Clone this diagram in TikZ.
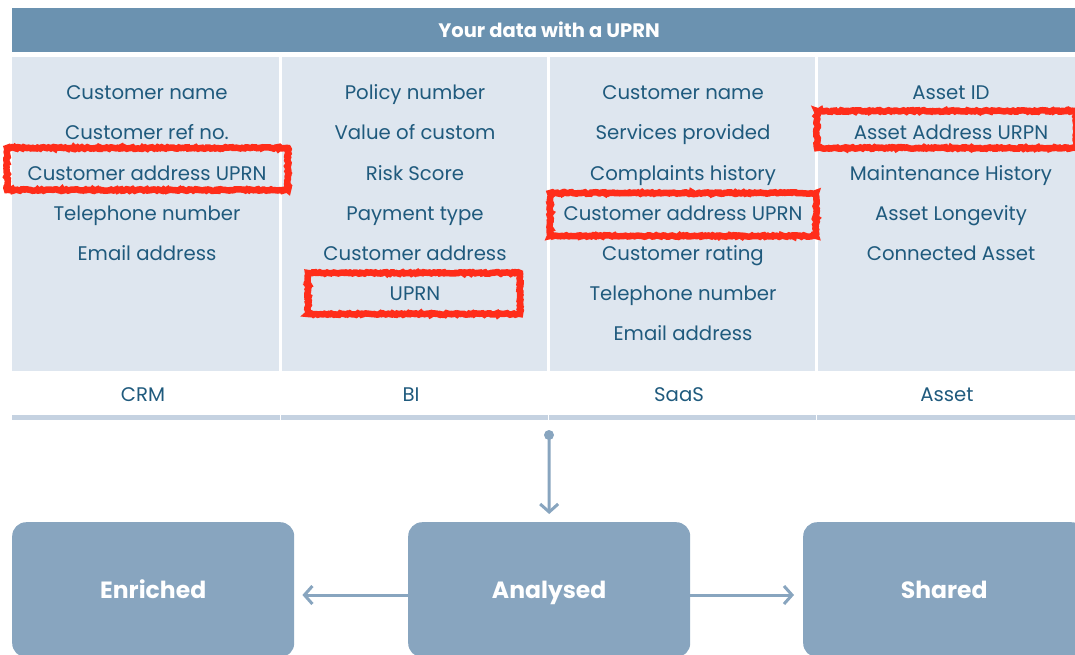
\documentclass[tikz,border=0pt]{standalone}
\usepackage{fontspec}
\setmainfont{Poppins}
\usetikzlibrary{arrows.meta,decorations.pathmorphing}
\definecolor{hdr}{HTML}{6B92B0}
\definecolor{colbg}{HTML}{DEE6EF}
\definecolor{barc}{HTML}{C5D2E1}
\definecolor{ink}{HTML}{1F5A7D}
\definecolor{boxc}{HTML}{88A5BF}
\definecolor{redm}{HTML}{FF2D1A}
\tikzset{
  x=1pt,y=-1pt,
  header/.style={fill=hdr,minimum width=1063pt,minimum height=44pt,inner sep=0pt,anchor=north west},
  headtext/.style={text=white,font=\fontsize{19.5}{22}\bfseries\selectfont,inner sep=0pt,text height=15pt,text depth=1pt},
  column/.style={fill=colbg,minimum height=314pt,inner sep=0pt,anchor=north west},
  bar/.style={fill=barc,minimum height=5pt,inner sep=0pt,anchor=north west},
  rowtext/.style={text=ink,font=\fontsize{19.7}{22}\selectfont,inner sep=0pt,anchor=center,text height=15pt,text depth=1pt},
  flowbox/.style={fill=boxc,rounded corners=14pt,minimum width=282pt,minimum height=135pt,inner sep=0pt,anchor=north west,text=white,font=\bfseries\fontsize{23.5}{26}\selectfont,text height=18pt,text depth=1pt},
  flow/.style={draw=boxc,line width=3pt,-{Straight Barb[length=8pt,width=18pt,line width=3pt]}},
  dotnode/.style={circle,fill=boxc,minimum size=10pt,inner sep=0pt},
  redbox/.style={draw=redm,line width=6.5pt,fill=none,decorate,decoration={random steps,segment length=1.6pt,amplitude=0.8pt}}
}
\begin{document}
\begin{tikzpicture}
\useasboundingbox (0,0) rectangle (1075,655);
\clip (0,0) rectangle (1075,655);
\node[header] (head) at (12,8) {};
\node[headtext] (headt) at (549,31) {Your data with a UPRN};
\node[column,minimum width=267pt] (c1) at (12,57) {};
\node[column,minimum width=265pt] (c2) at (282,57) {};
\node[column,minimum width=265pt] (c3) at (550,57) {};
\node[column,minimum width=265pt] (c4) at (818,57) {};
\node[rowtext] (a1) at (147,93) {Customer name};
\node[rowtext] (a2) at (147,133) {Customer ref no.};
\node[rowtext] (a3) at (147,173) {Customer address UPRN};
\node[rowtext] (a4) at (147,213) {Telephone number};
\node[rowtext] (a5) at (147,253) {Email address};
\node[rowtext] (b1) at (415,93) {Policy number};
\node[rowtext] (b2) at (415,133) {Value of custom};
\node[rowtext] (b3) at (415,173) {Risk Score};
\node[rowtext] (b4) at (415,213) {Payment type};
\node[rowtext] (b5) at (415,253) {Customer address};
\node[rowtext] (b6) at (415,293) {UPRN};
\node[rowtext] (d1) at (683,93) {Customer name};
\node[rowtext] (d2) at (683,133) {Services provided};
\node[rowtext] (d3) at (683,173) {Complaints history};
\node[rowtext] (d4) at (683,213) {Customer address UPRN};
\node[rowtext] (d5) at (683,253) {Customer rating};
\node[rowtext] (d6) at (683,293) {Telephone number};
\node[rowtext] (d7) at (683,333) {Email address};
\node[rowtext] (e1) at (951,93) {Asset ID};
\node[rowtext] (e2) at (951,133) {Asset Address URPN};
\node[rowtext] (e3) at (951,173) {Maintenance History};
\node[rowtext] (e4) at (951,213) {Asset Longevity};
\node[rowtext] (e5) at (951,253) {Connected Asset};
\node[rowtext] (l1) at (143,394) {CRM};
\node[rowtext] (l2) at (411,394) {BI};
\node[rowtext] (l3) at (679,394) {SaaS};
\node[rowtext] (l4) at (947,394) {Asset};
\node[bar,minimum width=268pt] (b1r) at (12,415) {};
\node[bar,minimum width=267pt] (b2r) at (281,415) {};
\node[bar,minimum width=267pt] (b3r) at (549,415) {};
\node[bar,minimum width=258pt] (b4r) at (817,415) {};
\draw[redbox] (7,148) rectangle (288,190);
\draw[redbox] (308,273) rectangle (520,314);
\draw[redbox] (550,193) rectangle (816,236);
\draw[redbox] (817,111) rectangle (1076,148);
\node[flowbox] (enriched) at (12,522) {Enriched};
\node[flowbox] (analysed) at (408,522) {Analysed};
\node[flowbox] (shared) at (803,522) {Shared};
\node[dotnode] (dot) at (549,435) {};
\coordinate (ay) at (0,595);
\draw[flow,shorten >=8pt] (dot.center) -- (analysed.north);
\draw[flow,shorten >=8pt] (analysed.west |- ay) -- (enriched.east |- ay);
\draw[flow,shorten >=9pt] (analysed.east |- ay) -- (shared.west |- ay);
\end{tikzpicture}
\end{document}
